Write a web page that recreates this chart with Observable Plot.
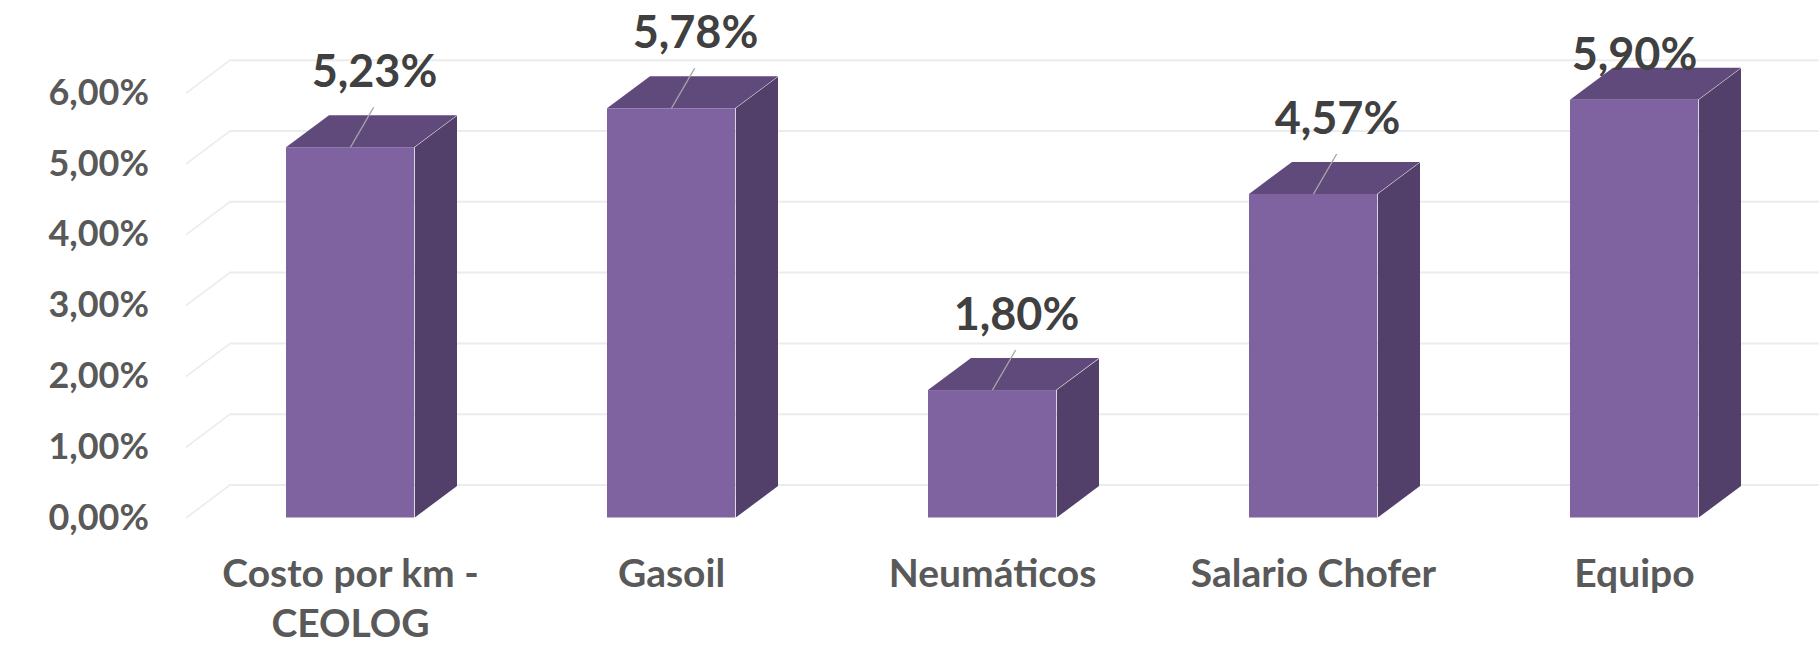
<!DOCTYPE html>
<html>
<head>
<meta charset="utf-8">
<script src="https://cdn.jsdelivr.net/npm/d3@7"></script>
<script src="https://cdn.jsdelivr.net/npm/@observablehq/plot@0.6"></script>
<style>
  html, body { margin: 0; padding: 0; background: #ffffff; }
  #chart { width: 1819px; height: 645px; }
  /* pseudo-3D faces: skew the side and top faces around their front edge */
  .side rect { transform-box: fill-box; transform-origin: 0 100%; transform: skewY(-36.65deg); }
  .top rect { transform-box: fill-box; transform-origin: 0 100%; transform: skewX(-53.35deg); }
  .diag line { transform-box: fill-box; transform-origin: 0 50%; transform: skewY(-36.87deg); }
  .leader line { transform-box: fill-box; transform-origin: 50% 100%; transform: skewX(-30.07deg); }
</style>
</head>
<body>
<div id="chart"></div>
<script>
// ---- data ----
const categories = ["Costo por km - CEOLOG", "Gasoil", "Neumáticos", "Salario Chofer", "Equipo"];
const values = [5.23, 5.78, 1.80, 4.57, 5.90];
const yTicks = [0, 1, 2, 3, 4, 5, 6];

const data = categories.map((c, i) => ({cat: c, value: values[i]}));
const fmt = v => v.toFixed(2).replace(".", ",") + "%";

// ---- layout ----
const width = 1819, height = 645;
const marginLeft = 186, marginRight = 20, marginTop = 92.7, marginBottom = 127.5;
const paddingInner = 0.6, paddingOuter = 0.305;
const frameW = width - marginLeft - marginRight;
const step = frameW / (categories.length - paddingInner + 2 * paddingOuter);
const bandwidth = step * (1 - paddingInner);
const depthX = 43, depthY = 32;      // bar depth
const wallX = 44, wallY = 33;        // back wall offset

const frontColor = "#7f63a0", topColor = "#604a7b", sideColor = "#523f6a";
const gridColor = "#ececec";

// labels of bars reaching the top of the plot area sit on the bar (no leader line)
const maxLeader = 5.85;
const withLeader = data.filter(d => d.value < maxLeader);
const onTop = data.filter(d => d.value >= maxLeader);
const labelStyle = {fontSize: 45, fontWeight: "bold", fill: "#404040"};

const chart = Plot.plot({
  width, height, marginLeft, marginRight, marginTop, marginBottom,
  style: {fontFamily: "Lato, 'Open Sans', sans-serif", background: "#ffffff"},
  x: {domain: categories, paddingInner, paddingOuter},
  y: {domain: [0, 6]},
  marks: [
    // floor-to-wall diagonals
    Plot.ruleY(yTicks, {insetRight: frameW - wallX, stroke: gridColor, strokeWidth: 2, className: "diag"}),
    // back-wall gridlines
    Plot.ruleY(yTicks, {dx: wallX, dy: -wallY, stroke: gridColor, strokeWidth: 2}),
    // side faces
    Plot.barY(data, {x: "cat", y: "value", fill: sideColor, insetLeft: bandwidth, insetRight: -depthX, className: "side"}),
    // top faces
    Plot.barY(data, {x: "cat", y1: "value", y2: "value", insetTop: -depthY, fill: topColor, className: "top"}),
    // front faces
    Plot.barY(data, {x: "cat", y: "value", fill: frontColor}),
    // leader lines
    Plot.ruleX(withLeader, {x: "cat", y1: "value", y2: "value", insetTop: -40, stroke: "#a6a6a6", strokeWidth: 1.5, className: "leader"}),
    // data labels
    Plot.text(withLeader, {x: "cat", y: "value", text: d => fmt(d.value), dx: 24, dy: -75, ...labelStyle}),
    Plot.text(onTop, {x: "cat", y: "value", text: d => fmt(d.value), dx: 0, dy: -45, ...labelStyle}),
    Plot.axisY(yTicks, {tickSize: 0, tickPadding: 37.5, tickFormat: fmt, fontSize: 36, fontWeight: "bold", fill: "#595959", label: null}),
    Plot.axisX({tickSize: 0, tickPadding: 34, tickFormat: d => d.replace(" - ", " -\n"), fontSize: 39, fontWeight: "bold",
      fill: "#595959", lineHeight: 1.27, label: null})
  ]
});
document.getElementById("chart").appendChild(chart);
</script>
</body>
</html>
